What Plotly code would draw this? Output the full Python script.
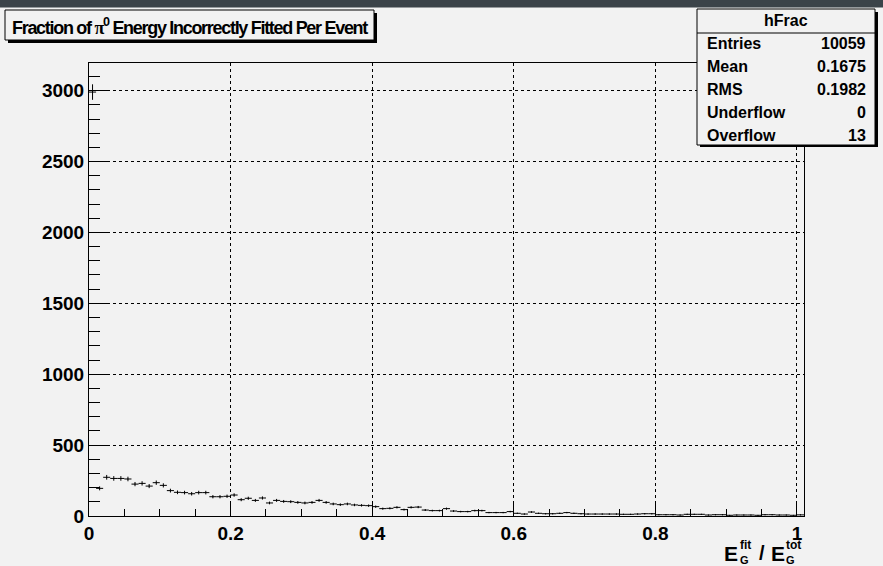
import numpy as np
import plotly.graph_objects as go

# ---- data ----
bin_lo = 0.0
bin_width = 0.01
counts = [2990, 195, 273, 265, 265, 261, 225, 230, 211, 235,
          216, 179, 167, 165, 157, 165, 165, 136, 136, 139,
          148, 115, 125, 110, 127, 92, 110, 103, 101, 96,
          92, 96, 110, 96, 85, 80, 85, 78, 75, 73,
          66, 52, 54, 61, 45, 61, 63, 42, 38, 38,
          52, 35, 31, 31, 38, 38, 24, 24, 24, 31,
          19, 14, 28, 19, 16, 16, 19, 24, 19, 16,
          14, 14, 14, 14, 14, 12, 12, 14, 16, 16,
          9, 9, 9, 7, 12, 12, 12, 7, 9, 9,
          5, 7, 7, 7, 5, 9, 9, 7, 7, 5, 8]
x_ticks = [0, 0.2, 0.4, 0.6, 0.8, 1.0]
x_ticklabels = ["0", "0.2", "0.4", "0.6", "0.8", "1"]
y_ticks = [0, 500, 1000, 1500, 2000, 2500, 3000]
y_ticklabels = ["0", "500", "1000", "1500", "2000", "2500", "3000"]
stats_labels = ["Entries", "Mean", "RMS", "Underflow", "Overflow"]
stats_values = ["10059", "0.1675", "0.1982", "0", "13"]
stats_name = "hFrac"
title_text = ("<span style='letter-spacing:-1.3px'>Fraction of "
              "<span style='font-family:Liberation Serif'>π</span><sup>0</sup>"
              " Energy Incorrectly Fitted Per Event</span>")

counts = np.array(counts, dtype=float)
n = len(counts)
centers = bin_lo + bin_width * (np.arange(n) + 0.5)
errs = np.sqrt(counts)

W, H = 883, 566
L, R, T, B = 89, 804, 63, 516
pw, ph = R - L, B - T

def px(x):
    return (x - L) / pw

def py(y):
    return (B - y) / ph

BG = "#f2f2f2"
FONT = "Liberation Sans"

fig = go.Figure()
fig.add_trace(go.Scatter(
    x=centers, y=counts, mode="markers",
    marker=dict(size=1, color="black"),
    error_x=dict(type="constant", value=bin_width / 2, width=0, thickness=1, color="black"),
    error_y=dict(type="data", array=errs, width=0, thickness=1, color="black"),
    showlegend=False, hoverinfo="skip",
))

shapes = []
annos = []
# dark top band
shapes.append(dict(type="rect", xref="paper", yref="paper", x0=px(-10), x1=px(W + 10), y0=py(7.5), y1=py(-20),
                   fillcolor="#3b4349", line=dict(width=0), layer="above"))
# title box with shadow
shapes.append(dict(type="rect", xref="paper", yref="paper", x0=px(8), x1=px(377), y0=py(43), y1=py(13),
                   fillcolor="black", line=dict(width=0), layer="above"))
shapes.append(dict(type="rect", xref="paper", yref="paper", x0=px(5), x1=px(374), y0=py(40), y1=py(10),
                   fillcolor=BG, line=dict(width=1, color="black"), layer="above"))
annos.append(dict(xref="paper", yref="paper", x=px(190), y=py(26), text="<b>" + title_text + "</b>",
                  showarrow=False, xanchor="center", yanchor="middle",
                  font=dict(family=FONT, size=18, color="black")))
# stats box
sx0, sx1, sy0, sy1 = 697, 875, 9, 145
shapes.append(dict(type="rect", xref="paper", yref="paper", x0=px(sx0 + 3), x1=px(sx1 + 3), y0=py(sy1 + 2), y1=py(sy0 + 3),
                   fillcolor="black", line=dict(width=0), layer="above"))
shapes.append(dict(type="rect", xref="paper", yref="paper", x0=px(sx0), x1=px(sx1), y0=py(sy1), y1=py(sy0),
                   fillcolor=BG, line=dict(width=1, color="black"), layer="above"))
shapes.append(dict(type="line", xref="paper", yref="paper", x0=px(sx0), x1=px(sx1), y0=py(33), y1=py(33),
                   line=dict(width=1, color="black"), layer="above"))
annos.append(dict(xref="paper", yref="paper", x=px((sx0 + sx1) / 2), y=py(21), text="<b>" + stats_name + "</b>",
                  showarrow=False, xanchor="center", yanchor="middle", font=dict(family=FONT, size=16, color="black")))
row_y = [43.5, 66.5, 89.5, 112, 135]
for lab, val, yy in zip(stats_labels, stats_values, row_y):
    annos.append(dict(xref="paper", yref="paper", x=px(705), y=py(yy), text="<b>" + lab + "</b>",
                      showarrow=False, xanchor="left", yanchor="middle", font=dict(family=FONT, size=16, color="black")))
    annos.append(dict(xref="paper", yref="paper", x=px(868), y=py(yy), text="<b>" + val + "</b>",
                      showarrow=False, xanchor="right", yanchor="middle", font=dict(family=FONT, size=16, color="black")))

# x axis title E_G^fit / E_G^tot
def txt(x, y, s, size, anchor="left"):
    annos.append(dict(xref="paper", yref="paper", x=px(x), y=py(y), text="<b>" + s + "</b>", showarrow=False,
                      xanchor=anchor, yanchor="middle", font=dict(family=FONT, size=size, color="black")))

txt(722, 553, "E", 21)
txt(738, 545, "fit", 12)
txt(738, 560, "G", 11)
txt(757, 553, "/", 20)
txt(769, 553, "E", 21)
txt(784, 545, "tot", 12)
txt(784, 560, "G", 11)

fig.update_layout(
    width=W, height=H,
    margin=dict(l=L, r=W - R, t=T, b=H - B, pad=0),
    paper_bgcolor=BG, plot_bgcolor=BG,
    shapes=shapes, annotations=annos,
    xaxis=dict(range=[0, 1.01], tickvals=x_ticks, ticktext=x_ticklabels, ticks="inside", ticklen=14,
               tickcolor="black", tickwidth=1, showline=True, mirror=True, linecolor="black", linewidth=1,
               showgrid=True, gridcolor="black", griddash="dot", gridwidth=1, zeroline=False,
               tickfont=dict(family=FONT, size=19, color="black", weight="bold"),
               minor=dict(dtick=0.05, tick0=0, ticks="inside", ticklen=7, tickcolor="black", showgrid=False)),
    yaxis=dict(range=[0, 3195], tickvals=y_ticks, ticktext=y_ticklabels, ticks="inside", ticklen=21,
               tickcolor="black", tickwidth=1, showline=True, mirror=True, linecolor="black", linewidth=1,
               showgrid=True, gridcolor="black", griddash="dot", gridwidth=1, zeroline=False,
               tickfont=dict(family=FONT, size=19, color="black", weight="bold"),
               minor=dict(dtick=100, tick0=0, ticks="inside", ticklen=11, tickcolor="black", showgrid=False)),
)
fig.write_html("out.html", config={"displayModeBar": False},
               post_script="document.body.style.margin='0';document.body.style.overflow='hidden';")
